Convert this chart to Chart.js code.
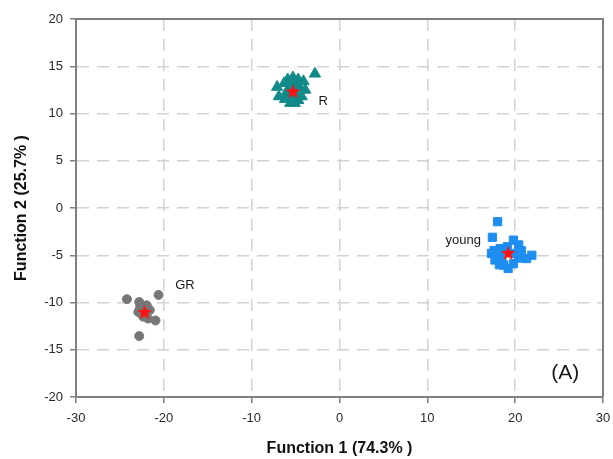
<!DOCTYPE html>
<html>
<head>
<meta charset="utf-8">
<script src="https://cdn.jsdelivr.net/npm/chart.js@4.4.0/dist/chart.umd.min.js"></script>
<style>
  html, body { margin: 0; padding: 0; background: #fff; }
  #wrap { width: 613px; height: 459px; }
</style>
</head>
<body>
<div id="wrap"><canvas id="myChart" width="613" height="459"></canvas></div>
<script>
// group R
var rX = [-7.1, -6.9, -5.9, -5.3, -4.7, -4.1, -3.9, -4.3, -6.2, -5.6, -5.1, -4.7, -6.0, -5.6, -4.5, -4.9, -5.5, -2.8, -6.3, -5.0];
var rY = [12.8, 11.8, 13.6, 13.8, 13.6, 13.4, 12.5, 11.8, 11.5, 11.1, 11.1, 11.4, 12.3, 12.9, 12.7, 12.0, 11.9, 14.2, 13.2, 13.1];
// group young
var youngX = [18.0, 17.4, 19.8, 17.3, 17.7, 18.3, 18.7, 19.2, 19.8, 20.4, 20.7, 20.4, 21.9, 21.3, 18.3, 19.1, 17.6, 18.5, 19.9, 18.2];
var youngY = [-1.45, -3.1, -3.4, -4.8, -5.5, -5.2, -6.05, -6.4, -5.9, -5.3, -4.5, -3.9, -5.0, -5.35, -4.3, -4.1, -4.5, -5.8, -4.8, -6.0];
// group GR
var grX = [-24.2, -20.6, -22.8, -22.7, -22.9, -21.95, -21.6, -22.35, -21.8, -20.95, -22.8];
var grY = [-9.65, -9.2, -9.95, -10.5, -11.0, -10.3, -10.8, -11.5, -11.7, -11.9, -13.55];
// group centroids
var centroidX = [-5.3, 19.2, -22.2];
var centroidY = [12.35, -4.75, -11.0];

var groupNames = ['R', 'young', 'GR', '(A)'];
var nameX = [-2.4, 16.1, -18.7, 25.7];
var nameY = [11.3, -3.4, -8.2, -17.5];

var xTicks = [-30, -20, -10, 0, 10, 20, 30];
var yTicks = [-20, -15, -10, -5, 0, 5, 10, 15, 20];

function toPoints(xs, ys){
    var pts = [];
    for (var i = 0; i < xs.length; i++) {
        pts.push({x: xs[i], y: ys[i]});
    }
    return pts;
}

function makeStar(){
    var c = document.createElement('canvas');
    c.width = 16; c.height = 16;
    var g = c.getContext('2d');
    g.fillStyle = '#ff1010';
    g.beginPath();
    for (var i = 0; i < 10; i++) {
        var r = (i % 2 === 0) ? 7.8 : 3.3;
        var a = -Math.PI / 2 + i * Math.PI / 5;
        var px = 8 + r * Math.cos(a), py = 8.6 + r * Math.sin(a);
        if (i === 0) g.moveTo(px, py); else g.lineTo(px, py);
    }
    g.closePath();
    g.fill();
    return c;
}

// frame on top and right + group names
var extras = {
    id: 'extras',
    afterDraw: function(chart){
        var ctx = chart.ctx, a = chart.chartArea;
        var sx = chart.scales.x, sy = chart.scales.y;
        ctx.save();
        ctx.strokeStyle = '#7f7f7f';
        ctx.lineWidth = 2;
        ctx.beginPath();
        ctx.moveTo(a.left, a.top);
        ctx.lineTo(a.right, a.top);
        ctx.lineTo(a.right, a.bottom);
        ctx.stroke();
        ctx.fillStyle = '#1a1a1a';
        ctx.textBaseline = 'middle';
        for (var i = 0; i < groupNames.length; i++) {
            var px = sx.getPixelForValue(nameX[i]);
            var py = sy.getPixelForValue(nameY[i]);
            if (groupNames[i] === '(A)') {
                ctx.font = '21px "Liberation Sans", Arial, sans-serif';
                ctx.textAlign = 'center';
            } else if (groupNames[i] === 'young') {
                ctx.font = '13px "Liberation Sans", Arial, sans-serif';
                ctx.textAlign = 'right';
            } else {
                ctx.font = '13px "Liberation Sans", Arial, sans-serif';
                ctx.textAlign = 'left';
            }
            ctx.fillText(groupNames[i], px, py);
        }
        ctx.restore();
    }
};

var ctx = document.getElementById('myChart').getContext('2d');
var chart = new Chart(ctx, {
    type: 'scatter',
    data: {
        datasets: [
            {
                label: 'centroid',
                data: toPoints(centroidX, centroidY),
                pointStyle: makeStar(),
                pointRadius: 8
            },
            {
                label: 'R',
                data: toPoints(rX, rY),
                pointStyle: 'triangle',
                pointRadius: 6.5,
                backgroundColor: '#128a8a',
                borderColor: '#128a8a',
                borderWidth: 1
            },
            {
                label: 'young',
                data: toPoints(youngX, youngY),
                pointStyle: 'rect',
                pointRadius: 5.8,
                backgroundColor: '#1e8ef0',
                borderColor: '#1e8ef0',
                borderWidth: 1
            },
            {
                label: 'GR',
                data: toPoints(grX, grY),
                pointStyle: 'circle',
                pointRadius: 4.5,
                backgroundColor: '#777777',
                borderColor: '#777777',
                borderWidth: 1
            }
        ]
    },
    options: {
        responsive: false,
        animation: false,
        layout: { padding: { left: 0, right: 10, top: 19, bottom: 0 } },
        plugins: {
            legend: { display: false },
            tooltip: { enabled: false }
        },
        scales: {
            x: {
                type: 'linear',
                min: -30, max: 30,
                afterBuildTicks: function(s){ s.ticks = xTicks.map(function(v){ return {value: v}; }); },
                afterFit: function(s){ s.height = 62; s.paddingRight = 0; s.paddingLeft = 0; },
                ticks: {
                    color: '#2a2a2a',
                    padding: 8,
                    font: { family: '"Liberation Sans", Arial, sans-serif', size: 13 }
                },
                grid: {
                    color: '#d2d2d2',
                    lineWidth: 1.5,
                    tickColor: '#7f7f7f',
                    tickLength: 6,
                    tickWidth: 1.5
                },
                border: { color: '#7f7f7f', width: 2, dash: [12, 8] },
                title: {
                    display: true,
                    text: 'Function 1 (74.3% )',
                    color: '#111',
                    padding: { top: 0, bottom: 1 },
                    font: { family: '"Liberation Sans", Arial, sans-serif', size: 16, weight: 'bold' }
                }
            },
            y: {
                type: 'linear',
                min: -20, max: 20,
                afterBuildTicks: function(s){ s.ticks = yTicks.map(function(v){ return {value: v}; }); },
                afterFit: function(s){ s.width = 76; },
                ticks: {
                    color: '#2a2a2a',
                    padding: 7,
                    font: { family: '"Liberation Sans", Arial, sans-serif', size: 13 }
                },
                grid: {
                    color: '#d2d2d2',
                    lineWidth: 1.5,
                    tickColor: '#7f7f7f',
                    tickLength: 6,
                    tickWidth: 1.5
                },
                border: { color: '#7f7f7f', width: 2, dash: [12, 8] },
                title: {
                    display: true,
                    text: 'Function 2 (25.7% )',
                    color: '#111',
                    padding: { top: 12, bottom: 0 },
                    font: { family: '"Liberation Sans", Arial, sans-serif', size: 16, weight: 'bold' }
                }
            }
        }
    },
    plugins: [extras]
});
</script>
</body>
</html>
